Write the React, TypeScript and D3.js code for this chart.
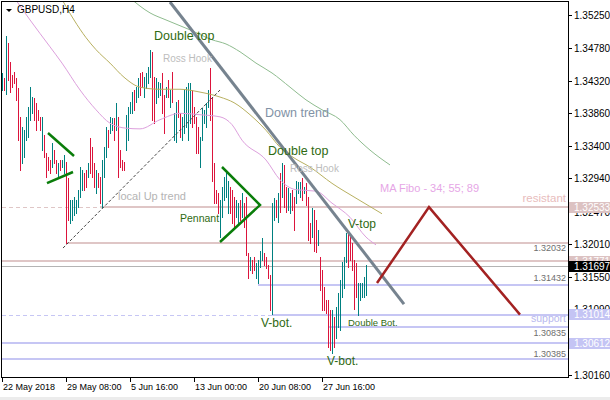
import React from "react";
import * as d3 from "d3";

// GBPUSD H4 bars (one per 4-hour period)
const barHigh = [
  1.3443, 1.3436, 1.3495, 1.3485, 1.3458, 1.344, 1.3444, 1.3436, 1.3422, 1.3381,
  1.3366, 1.3362, 1.3381, 1.3395, 1.3423, 1.3409, 1.3407, 1.34, 1.339, 1.3381,
  1.3381, 1.3355, 1.333, 1.3324, 1.332, 1.3344, 1.3334, 1.332, 1.3316, 1.332,
  1.332, 1.3327, 1.3317, 1.3294, 1.3263, 1.3263, 1.3267, 1.3263, 1.3277, 1.331,
  1.3306, 1.3301, 1.3306, 1.3316, 1.3351, 1.3338, 1.3316, 1.3306, 1.3301, 1.3296,
  1.332, 1.3338, 1.3366, 1.3362, 1.3381, 1.3379, 1.3379, 1.34, 1.3381, 1.3334,
  1.332, 1.3317, 1.3383, 1.3395, 1.3402, 1.3416, 1.3419, 1.3423, 1.3436, 1.3443,
  1.3444, 1.3437, 1.3443, 1.3451, 1.3475, 1.3472, 1.3437, 1.3436, 1.343, 1.3429,
  1.3443, 1.3412, 1.3423, 1.3433, 1.3419, 1.3444, 1.3386, 1.3402, 1.3405, 1.3386,
  1.3381, 1.3419, 1.3423, 1.3429, 1.3429, 1.3419, 1.3395, 1.3381, 1.3366, 1.3352,
  1.3393, 1.339, 1.34, 1.3419, 1.345, 1.3409, 1.3316, 1.3277, 1.3273, 1.3263,
  1.3282, 1.3296, 1.3301, 1.3291, 1.3282, 1.3277, 1.3267, 1.3263, 1.3259, 1.3263,
  1.3273, 1.3259, 1.3267, 1.3188, 1.3183, 1.3178, 1.3183, 1.3174, 1.3178, 1.3192,
  1.3209, 1.3188, 1.3183, 1.3171, 1.3157, 1.3259, 1.3266, 1.3263, 1.3273, 1.3301,
  1.3316, 1.3313, 1.3282, 1.328, 1.3273, 1.3277, 1.3267, 1.3291, 1.3289, 1.3289,
  1.3294, 1.3282, 1.3287, 1.3267, 1.3231, 1.3252, 1.3249, 1.3235, 1.3221, 1.3183,
  1.3164, 1.314, 1.3122, 1.3122, 1.3108, 1.3108, 1.3098, 1.3112, 1.3132, 1.315,
  1.3176, 1.3183, 1.3217, 1.3218, 1.3211, 1.3202, 1.3178, 1.3174, 1.3146, 1.3146,
  1.3146, 1.3154, 1.3171,
];

const barLow = [
  1.3419, 1.3419, 1.3414, 1.3433, 1.3416, 1.3423, 1.3429, 1.3405, 1.3348, 1.3306,
  1.3316, 1.3324, 1.3348, 1.3352, 1.3376, 1.3386, 1.3376, 1.3362, 1.3376, 1.3362,
  1.3334, 1.3324, 1.3296, 1.3306, 1.3301, 1.331, 1.3316, 1.3301, 1.3296, 1.3306,
  1.331, 1.3301, 1.3203, 1.3235, 1.3231, 1.3235, 1.3242, 1.3245, 1.3253, 1.3267,
  1.3277, 1.3277, 1.3282, 1.3296, 1.3301, 1.3296, 1.3282, 1.3273, 1.3282, 1.3259,
  1.3254, 1.3296, 1.3324, 1.3338, 1.3358, 1.3362, 1.3348, 1.3362, 1.3296, 1.331,
  1.3306, 1.3306, 1.3334, 1.3348, 1.3386, 1.3386, 1.339, 1.3402, 1.3409, 1.3412,
  1.3423, 1.3409, 1.3422, 1.3429, 1.3437, 1.3376, 1.3372, 1.34, 1.3409, 1.3412,
  1.3386, 1.3358, 1.3409, 1.3409, 1.3395, 1.3402, 1.3348, 1.3345, 1.3381, 1.3352,
  1.3348, 1.3358, 1.3366, 1.3348, 1.3372, 1.3366, 1.3372, 1.333, 1.333, 1.331,
  1.3348, 1.3372, 1.3366, 1.3395, 1.3376, 1.3291, 1.3259, 1.3259, 1.3245, 1.3211,
  1.3239, 1.3263, 1.3267, 1.3245, 1.3245, 1.3231, 1.3225, 1.3239, 1.3228, 1.3235,
  1.3239, 1.3225, 1.3185, 1.3153, 1.3164, 1.316, 1.3164, 1.3153, 1.3146, 1.3168,
  1.3178, 1.3171, 1.3167, 1.3153, 1.3108, 1.3102, 1.3235, 1.3239, 1.3232, 1.3246,
  1.3267, 1.3253, 1.3246, 1.3249, 1.3245, 1.3249, 1.3221, 1.3259, 1.3273, 1.3267,
  1.3263, 1.3273, 1.3256, 1.3207, 1.3202, 1.3211, 1.3192, 1.319, 1.32, 1.3136,
  1.3108, 1.3108, 1.3103, 1.3055, 1.3051, 1.3047, 1.3055, 1.3069, 1.3084, 1.3079,
  1.3126, 1.3139, 1.3176, 1.3168, 1.3178, 1.3164, 1.311, 1.3126, 1.3101, 1.3122,
  1.3126, 1.3126, 1.3129,
];

// u = bullish bar, d = bearish bar
const barDir =
  "ududdddddd" + "uuuuuudddd" + "udddduddud" + "uudduuuuuu" + "uddudddudd" + "uuuduududd" + "dd" +
  "uuuuduud" + "duuuudduuu" + "ddududuudd" + "uuuuuddddu" + "uuuudddddu" + "uuuuddduud" + "udd" +
  "dudduuu" + "udddduudud" + "udduudduuu" + "duddduddud" + "ddddduduuu" + "uuuddddduu" + "uuu";

const lastPrice = 1.31697;

const priceTicks = [1.3525, 1.3478, 1.3432, 1.3386, 1.334, 1.3294, 1.3247, 1.3201, 1.3155, 1.3109, 1.3062, 1.3016];
const timeTickBars = [0, 32, 64, 96, 128, 160];
const timeTickLabels = ["22 May 2018", "29 May 08:00", "5 Jun 16:00", "13 Jun 00:00", "20 Jun 08:00", "27 Jun 16:00"];

// Moving averages 34 / 55 / 89: [bar, price]
const ma34 = [
  [6, 1.355], [14, 1.3518], [24, 1.348], [30, 1.3457], [39, 1.3419], [47, 1.3391], [54, 1.3372],
  [62, 1.3365], [69, 1.3364], [79, 1.3377], [89, 1.3386], [99, 1.3384], [109, 1.3381], [115, 1.337],
  [120, 1.3348], [132, 1.332], [139, 1.3292], [147, 1.3278], [157, 1.3276], [165, 1.3259],
  [174, 1.3239], [182, 1.3211], [187, 1.32],
];
const ma55 = [
  [29, 1.3552], [36, 1.3518], [42, 1.3493], [47, 1.3476], [54, 1.3457], [61, 1.3437], [69, 1.3423],
  [79, 1.342], [89, 1.342], [99, 1.3416], [109, 1.3409], [116, 1.3401], [124, 1.3384], [132, 1.3362],
  [139, 1.3338], [146, 1.3323], [154, 1.331], [165, 1.3287], [177, 1.3266], [190, 1.3244],
];
const ma89 = [
  [64, 1.3549], [74, 1.3528], [82, 1.3518], [94, 1.3504], [105, 1.349], [112, 1.3484], [119, 1.3473],
  [127, 1.3457], [135, 1.3443], [144, 1.3423], [152, 1.3405], [160, 1.3391], [169, 1.3377],
  [176, 1.3355], [184, 1.3334], [194, 1.3313],
];

// Drawn objects: [bar, price] anchors
const downTrend = [[84, 1.35434], [201, 1.31163]];
const localUpTrend = [[30.5, 1.31955], [109, 1.34189]];
const pennantUpper = [[23, 1.33581], [36, 1.33256]];
const pennantLower = [[22.5, 1.32874], [35.5, 1.3303]];
const wedge = [[110, 1.33101], [129, 1.32563], [109, 1.3204]];
const projection = [[187.5, 1.3146], [213.5, 1.32533], [259, 1.31014]];

// Horizontal levels
const resistance = 1.32533;
const level1 = 1.32032;
const level2 = 1.31771;
const level3 = 1.31432;
const support = 1.31014;
const level4 = 1.30835;
const level5 = 1.30612;
const level6 = 1.30385;

const PINK = "#dfc6c6";
const LAV = "#c6c6f4";
const NOTE = "#2f6a12";

const notes = [
  { text: "Double top", bar: 76, price: 1.34896, size: 12.5, color: NOTE },
  { text: "Ross Hook", bar: 80.5, price: 1.34585, size: 10, color: "#bdbdbd" },
  { text: "Down trend", bar: 131.5, price: 1.33808, size: 12.5, color: "#8292a6" },
  { text: "Double top", bar: 133, price: 1.3327, size: 12.5, color: NOTE },
  { text: "Ross Hook", bar: 144, price: 1.3303, size: 10, color: "#bdbdbd" },
  { text: "MA Fibo - 34; 55; 89", bar: 189, price: 1.32747, size: 11, color: "#e6a6e6" },
  { text: "V-top", bar: 173, price: 1.32238, size: 12, color: NOTE },
  { text: "local  Up trend", bar: 58, price: 1.32634, size: 11, color: "#b4b4b4" },
  { text: "Pennant", bar: 89, price: 1.32323, size: 10.5, color: NOTE },
  { text: "V-bot.", bar: 129.5, price: 1.30838, size: 12, color: NOTE },
  { text: "Double Bot.", bar: 173, price: 1.30852, size: 9.5, color: NOTE },
  { text: "V-bot.", bar: 162.5, price: 1.30301, size: 12, color: NOTE },
];

const levelNotes = [
  { text: "resistant", price: 1.32606, size: 11.5, color: "#e8bcbc" },
  { text: "1.32032", price: 1.31913, size: 9, color: "#6e6e6e" },
  { text: "1.31432", price: 1.31489, size: 9, color: "#6e6e6e" },
  { text: "support", price: 1.30909, size: 10.5, color: "#b8b8ee" },
  { text: "1.30835", price: 1.30711, size: 9, color: "#6e6e6e" },
  { text: "1.30385", price: 1.30414, size: 9, color: "#6e6e6e" },
];

const priceTags = [
  { price: resistance, fill: "#dcc2c2" },
  { price: level2, fill: "#dcc2c2" },
  { price: lastPrice, fill: "#000000" },
  { price: support, fill: "#c4c4f4" },
  { price: level5, fill: "#c4c4f4" },
];

export default function App() {
  const left = 2;
  const right = 568;
  const top = 2;
  const bottom = 377;
  const x = d3.scaleLinear().domain([0, 283]).range([left, right]);
  const y = d3.scaleLinear().domain([1.3016, 1.3525]).range([375, 15]);
  const fmt = d3.format(".5f");
  const px = (i: number) => Math.round(x(i)) + 0.5;

  const line = d3
    .line<number[]>()
    .x((d) => x(d[0]))
    .y((d) => y(d[1]));
  const smooth = d3
    .line<number[]>()
    .x((d) => x(d[0]))
    .y((d) => y(d[1]))
    .curve(d3.curveMonotoneX);

  const hl = (price: number, fromBar: number | null, stroke: string, width: number, dash?: string) => {
    const yy = Math.round(y(price)) + (width % 2 ? 0.5 : 0);
    return (
      <line
        x1={fromBar === null ? left : x(fromBar)}
        x2={right}
        y1={yy}
        y2={yy}
        stroke={stroke}
        strokeWidth={width}
        strokeDasharray={dash}
        shapeRendering="crispEdges"
      />
    );
  };

  const font = "Tahoma, 'Liberation Sans', Arial, sans-serif";

  return (
    <svg
      width={610}
      height={400}
      style={{ position: "fixed", left: 0, top: 0, background: "#fff" }}
      fontFamily={font}
    >
      <defs>
        <clipPath id="plotArea">
          <rect x={left} y={top} width={right - left} height={bottom - top} />
        </clipPath>
      </defs>
      <rect x={0} y={0} width={610} height={400} fill="#fff" />
      <rect x={0} y={397} width={610} height={3} fill="#ececec" />

      <g clipPath="url(#plotArea)">
        {/* horizontal levels */}
        {hl(resistance, null, PINK, 1, "4,3")}
        {hl(resistance, 49, PINK, 2)}
        {hl(level1, 32, PINK, 2)}
        {hl(level2, null, PINK, 2)}
        {hl(lastPrice, null, "#b4b4b4", 1)}
        {hl(level3, 128, LAV, 2)}
        {hl(support, null, LAV, 1, "4,3")}
        {hl(support, 135, LAV, 2)}
        {hl(level4, 163, LAV, 2)}
        {hl(level5, null, LAV, 2)}
        {hl(level6, null, LAV, 2)}

        {/* bars */}
        {barHigh.map((h, i) => (
          <line
            key={i}
            x1={px(i)}
            x2={px(i)}
            y1={Math.round(y(h))}
            y2={Math.round(y(barLow[i])) + 1}
            stroke={barDir[i] === "u" ? "#008080" : "#dc143c"}
            strokeWidth={1}
            shapeRendering="crispEdges"
          />
        ))}

        {/* moving averages */}
        <path d={smooth(ma89) || ""} fill="none" stroke="#8fbc8f" strokeWidth={1} />
        <path d={smooth(ma55) || ""} fill="none" stroke="#b8b060" strokeWidth={1} />
        <path d={smooth(ma34) || ""} fill="none" stroke="#dda0dd" strokeWidth={1} />

        {/* trend objects */}
        <path d={line(localUpTrend) || ""} fill="none" stroke="#444" strokeWidth={1} strokeDasharray="3,2" />
        <path d={line(downTrend) || ""} fill="none" stroke="#76838f" strokeWidth={3} />
        <path d={line(pennantUpper) || ""} fill="none" stroke="#0a7d0a" strokeWidth={2.5} />
        <path d={line(pennantLower) || ""} fill="none" stroke="#0a7d0a" strokeWidth={2.5} />
        <path d={line(wedge) || ""} fill="none" stroke="#0a7d0a" strokeWidth={2.5} />
        <path d={line(projection) || ""} fill="none" stroke="#a32222" strokeWidth={2.5} />

        {/* annotations */}
        {notes.map((n, i) => (
          <text key={i} x={x(n.bar)} y={y(n.price)} fontSize={n.size} fill={n.color}>
            {n.text}
          </text>
        ))}
        {levelNotes.map((n, i) => (
          <text key={i} x={566} y={y(n.price)} fontSize={n.size} fill={n.color} textAnchor="end">
            {n.text}
          </text>
        ))}
      </g>

      {/* frame */}
      <rect
        x={1.5}
        y={1.5}
        width={right - 1}
        height={bottom - 1}
        fill="none"
        stroke="#000"
        strokeWidth={1}
        shapeRendering="crispEdges"
      />

      {/* title */}
      <path d="M6,9 L12,9 L9,12 Z" fill="#000" />
      <text x={17} y={13} fontSize={10} fill="#000">
        GBPUSD,H4
      </text>

      {/* price axis */}
      {priceTicks.map((p) => {
        const yy = Math.round(y(p)) + 0.5;
        return (
          <g key={p}>
            <line x1={568} x2={572} y1={yy} y2={yy} stroke="#000" shapeRendering="crispEdges" />
            <text x={574} y={yy + 3.5} fontSize={10} fill="#000">
              {fmt(p)}
            </text>
          </g>
        );
      })}
      {priceTags.map((t, i) => {
        const yy = y(t.price);
        return (
          <g key={i}>
            <rect x={569} y={Math.round(yy - 5.5)} width={41} height={11} fill={t.fill} />
            <text x={574} y={yy + 3.5} fontSize={10} fill="#fff">
              {fmt(t.price)}
            </text>
          </g>
        );
      })}

      {/* time axis */}
      {timeTickBars.map((b, i) => {
        const xx = Math.round(x(b)) + 0.5;
        return (
          <g key={b}>
            <line x1={xx} x2={xx} y1={377} y2={382} stroke="#000" shapeRendering="crispEdges" />
            <text x={xx + 0.5} y={390} fontSize={9} fill="#000">
              {timeTickLabels[i]}
            </text>
          </g>
        );
      })}
    </svg>
  );
}
